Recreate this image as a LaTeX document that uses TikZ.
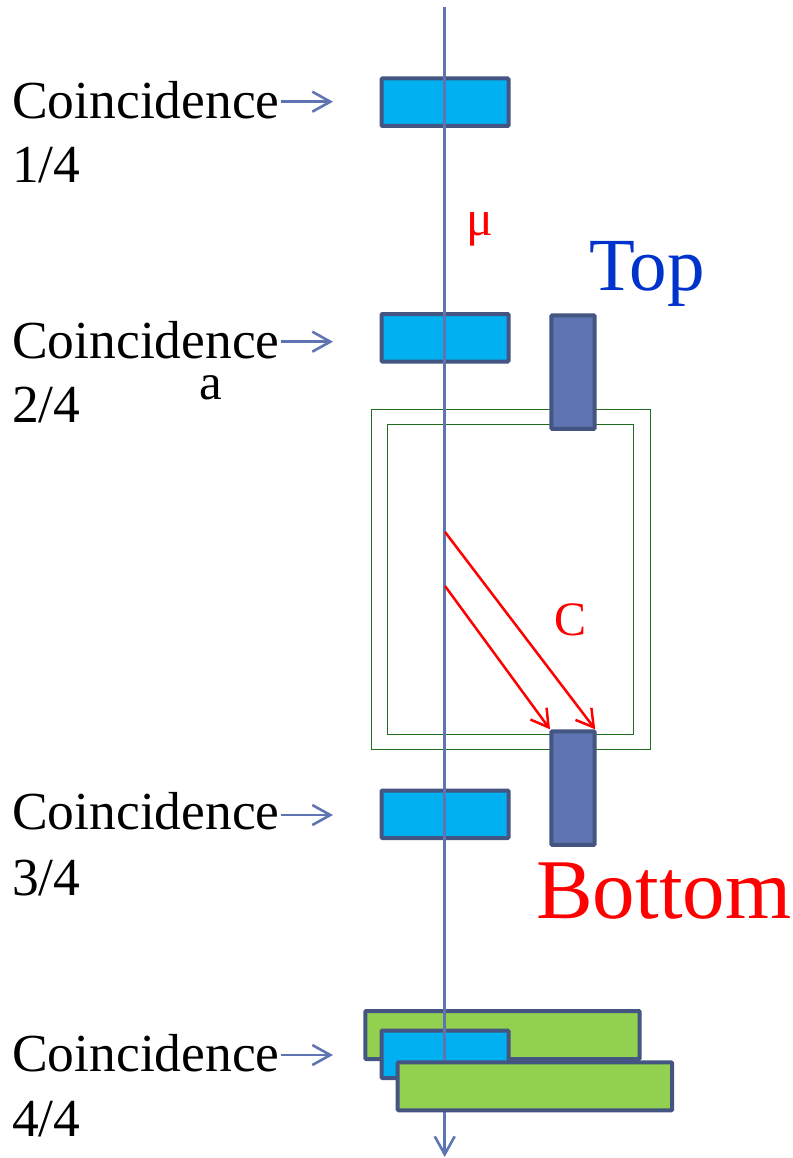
\documentclass[tikz,border=0pt]{standalone}
\usepackage{fontspec}
\setmainfont{Liberation Serif}
\usetikzlibrary{arrows.meta, positioning}
\definecolor{barBlue}{RGB}{95,117,178}
\definecolor{edgeBlue}{RGB}{69,85,130}
\definecolor{cellBlue}{RGB}{0,176,240}
\definecolor{cellGreen}{RGB}{146,208,80}
\definecolor{boxGreen}{RGB}{30,110,30}
\definecolor{topBlue}{RGB}{0,51,204}
\tikzset{
    % Detectors
    det/.style={rectangle, draw=edgeBlue, line width=4pt, rounded corners=1pt, inner sep=0pt, anchor=north west},
    cell/.style={det, fill=cellBlue, minimum width=127pt, minimum height=47.5pt},
    plate/.style={det, fill=cellGreen, minimum width=274.4pt, minimum height=48pt},
    bar/.style={det, fill=barBlue, minimum width=43.4pt, minimum height=113.5pt},
    tank/.style={rectangle, draw=boxGreen, line width=1pt, inner sep=0pt, anchor=north west},
    % Flow & Labels
    flow/.style={-{Straight Barb[length=18pt, width=20pt, line width=2.6pt]}, line width=2.6pt, barBlue},
    hit/.style={-{Straight Barb[length=17pt, width=20pt, line width=2.5pt]}, line width=2.5pt, red},
    lbl/.style={inner sep=0pt, anchor=base west, font=\fontsize{53.5}{60}\selectfont}
}
\begin{document}
\begin{tikzpicture}[x=1pt, y=-1pt]
\useasboundingbox (0,0) rectangle (792,1158);

\node[tank, minimum width=279pt, minimum height=340pt] (outer) at (371,409) {};
\node[tank, minimum width=246pt, minimum height=309.5pt] (inner) at (387,424) {};

\node[plate] (plateA) at (363.3,1009) {};
\node[cell] (cellA) at (379.5,76.5) {};
\node[cell] (cellB) at (379.5,312) {};
\node[cell] (cellC) at (379.5,788.5) {};
\node[cell] (cellD) at (379.5,1028.5) {};

\coordinate (muStart) at (444.7,7);
\coordinate (muEnd) at (444.7,1157);
\draw[flow] (muStart) -- (muEnd);

\node[plate] (plateB) at (395.7,1060.3) {};
\node[bar] (barTop) at (549.3,313.3) {};
\node[bar] (barBot) at (549.3,729.3) {};

\node[lbl] (coinA) at (12,119) {Coincidence};
\node[lbl] (fracA) at (12,183) {1/4};
\node[lbl] (coinB) at (12,358) {Coincidence};
\node[lbl] (fracB) at (12,422) {2/4};
\node[lbl] (coinC) at (12,829.5) {Coincidence};
\node[lbl] (fracC) at (12,895) {3/4};
\node[lbl] (coinD) at (12,1071.5) {Coincidence};
\node[lbl] (fracD) at (12,1136) {4/4};

\foreach \n/\y in {A/101.7, B/341.7, C/815, D/1055} {
    \coordinate (tip\n) at (333,\y);
    \draw[flow, shorten <=1.5pt] (coin\n.east |- tip\n) -- (tip\n);
}

\coordinate (startA) at (445,532);
\coordinate (startB) at (445,586);
\draw[hit] (startA) -- ([xshift=-1.5pt]barBot.north east);
\draw[hit] (startB) -- ([xshift=0.7pt]barBot.north west);

\node[lbl, font=\fontsize{50}{56}\selectfont, text=red] (mu) at (466,236) {μ};
\node[lbl, font=\fontsize{51}{56}\selectfont] (aLbl) at (199,399) {a};
\node[lbl, font=\fontsize{48}{54}\selectfont, text=red] (cLbl) at (554,635) {C};
\node[lbl, font=\fontsize{75}{80}\selectfont, text=topBlue] (topLbl) at (589,290) {Top};
\node[lbl, font=\fontsize{85}{90}\selectfont, text=red] (botLbl) at (536,918) {Bottom};

\end{tikzpicture}
\end{document}
